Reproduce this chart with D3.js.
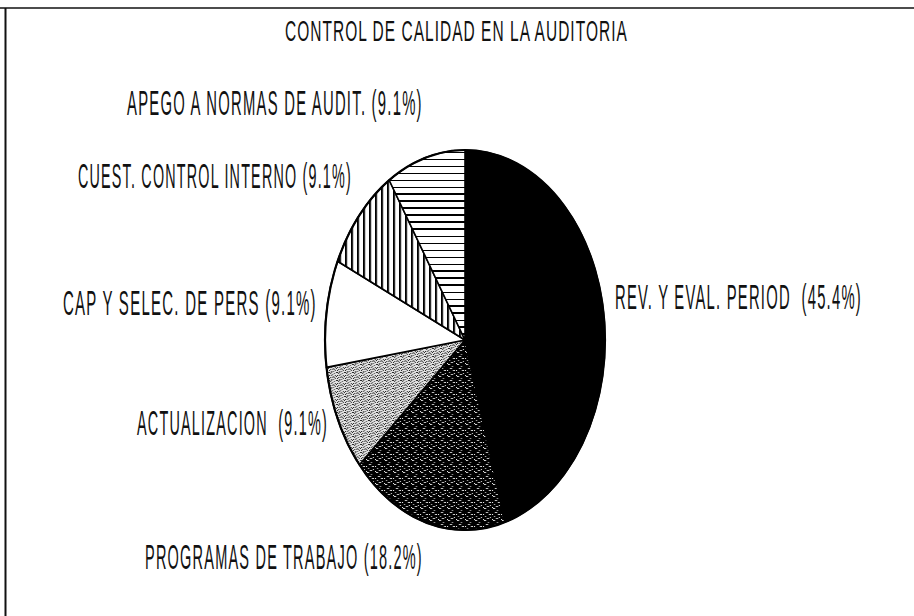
<!DOCTYPE html>
<html>
<head>
<meta charset="utf-8">
<script src="https://cdn.jsdelivr.net/npm/d3@7"></script>
<style>
  html, body { margin: 0; padding: 0; background: #fff; }
  svg { display: block; }
  .lbl { font-family: "Liberation Sans", "DejaVu Sans", sans-serif; fill: #111; }
</style>
</head>
<body>
<svg id="chart" width="914" height="616"></svg>
<script>
// chart data
const title = 'CONTROL DE CALIDAD EN LA AUDITORIA';
const categories = [
  'REV. Y EVAL. PERIOD ',
  'PROGRAMAS DE TRABAJO',
  'ACTUALIZACION ',
  'CAP Y SELEC. DE PERS',
  'CUEST. CONTROL INTERNO',
  'APEGO A NORMAS DE AUDIT.'
];
const shares = [45.4, 18.2, 9.1, 9.1, 9.1, 9.1];
const fills = ['solid', 'dense', 'light', 'blank', 'vlines', 'hlines'];

// layout
const W = 914, H = 616;
const CX = 465, CY = 340, RX = 140, RY = 190;
const SX = RX / RY;

// where each label sits (start x, baseline, width)
const labelSpots = [
  { x: 615, y: 309, w: 247 },
  { x: 145, y: 569, w: 278 },
  { x: 137, y: 435, w: 191 },
  { x: 63,  y: 315, w: 254 },
  { x: 78,  y: 188, w: 274 },
  { x: 127, y: 115, w: 296 }
];

const svg = d3.select('#chart');
const defs = svg.append('defs');

// undo the horizontal squash of the pie group inside the patterns
const unsquash = `scale(${1 / SX},1)`;

function pattern(id, w, h) {
  return defs.append('pattern')
    .attr('id', id)
    .attr('patternUnits', 'userSpaceOnUse')
    .attr('patternTransform', unsquash)
    .attr('width', w)
    .attr('height', h);
}

// vertical hatch
const pv = pattern('vlines', 6, 6);
pv.append('rect').attr('width', 6).attr('height', 6).attr('fill', '#fff');
pv.append('rect').attr('x', 0).attr('width', 2).attr('height', 6).attr('fill', '#000');

// horizontal hatch
const ph = pattern('hlines', 7, 7);
ph.append('rect').attr('width', 7).attr('height', 7).attr('fill', '#fff');
ph.append('rect').attr('y', 0).attr('width', 7).attr('height', 2).attr('fill', '#000');

// dark stipple: black with white flecks
const dotsDark = [[1, 0, 2], [5, 2, 1], [3, 4, 2], [0, 6, 1], [6, 6, 2], [2, 8, 1], [7, 9, 1], [4, 10, 2], [0, 11, 1]];
const pd = pattern('dense', 9, 12);
pd.append('rect').attr('width', 9).attr('height', 12).attr('fill', '#000');
pd.selectAll('rect.f').data(dotsDark).join('rect')
  .attr('class', 'f')
  .attr('x', d => d[0]).attr('y', d => d[1])
  .attr('width', d => d[2]).attr('height', 1)
  .attr('fill', '#eee');

// light stipple: light grey with dark specks
const dotsLight = [[0, 0], [2, 0], [1, 1], [3, 2], [0, 3], [2, 3], [5, 1], [4, 4], [1, 5], [5, 5], [3, 5], [0, 6], [2, 7], [4, 7], [6, 3], [6, 6], [7, 0], [7, 4]];
const pl = pattern('light', 8, 8);
pl.append('rect').attr('width', 8).attr('height', 8).attr('fill', '#e4e4e4');
pl.selectAll('rect.f').data(dotsLight).join('rect')
  .attr('class', 'f')
  .attr('x', d => d[0]).attr('y', d => d[1])
  .attr('width', 1).attr('height', 1)
  .attr('fill', '#222');

function fillFor(kind) {
  if (kind === 'solid') return '#000';
  if (kind === 'blank') return '#fff';
  return `url(#${kind})`;
}

// frame
svg.append('line').attr('x1', 0).attr('x2', W).attr('y1', 8).attr('y2', 8)
  .attr('stroke', '#111').attr('stroke-width', 1.5);
svg.append('line').attr('x1', 5.5).attr('x2', 5.5).attr('y1', 8).attr('y2', H)
  .attr('stroke', '#111').attr('stroke-width', 2);

// squeeze a text horizontally so it spans exactly w pixels
function squeeze(sel, x, y, w) {
  sel.attr('x', 0).attr('y', 0);
  const natural = sel.node().getComputedTextLength();
  sel.attr('transform', `translate(${x},${y}) scale(${w / natural},1)`);
}

// title
svg.append('text')
  .attr('class', 'lbl')
  .attr('font-size', 30)
  .attr('letter-spacing', 2)
  .text(title)
  .call(squeeze, 285, 41, 343);

// pie
const pie = d3.pie().sort(null).value(d => d.v);
const arcs = pie(shares.map((v, i) => ({ v, i })));
const arc = d3.arc().innerRadius(0).outerRadius(RY);

const pieG = svg.append('g')
  .attr('transform', `translate(${CX},${CY}) scale(${SX},1)`);

pieG.selectAll('path.slice')
  .data(arcs)
  .join('path')
  .attr('class', 'slice')
  .attr('d', arc)
  .attr('fill', d => fillFor(fills[d.data.i]))
  .attr('stroke', '#000')
  .attr('stroke-width', 1.6)
  .attr('vector-effect', 'non-scaling-stroke')
  .attr('stroke-linejoin', 'round');

// outline
pieG.append('ellipse')
  .attr('rx', RY).attr('ry', RY)
  .attr('fill', 'none')
  .attr('stroke', '#000')
  .attr('stroke-width', 2.2)
  .attr('vector-effect', 'non-scaling-stroke');

// labels
const fmt = d3.format('.1f');
svg.selectAll('text.slice-label')
  .data(arcs)
  .join('text')
  .attr('class', 'lbl slice-label')
  .attr('font-size', 36)
  .attr('letter-spacing', 3)
  .style('white-space', 'pre')
  .text(d => `${categories[d.data.i]} (${fmt(d.data.v)}%)`)
  .each(function(d) {
    const s = labelSpots[d.data.i];
    d3.select(this).call(squeeze, s.x, s.y, s.w);
  });
</script>
</body>
</html>
